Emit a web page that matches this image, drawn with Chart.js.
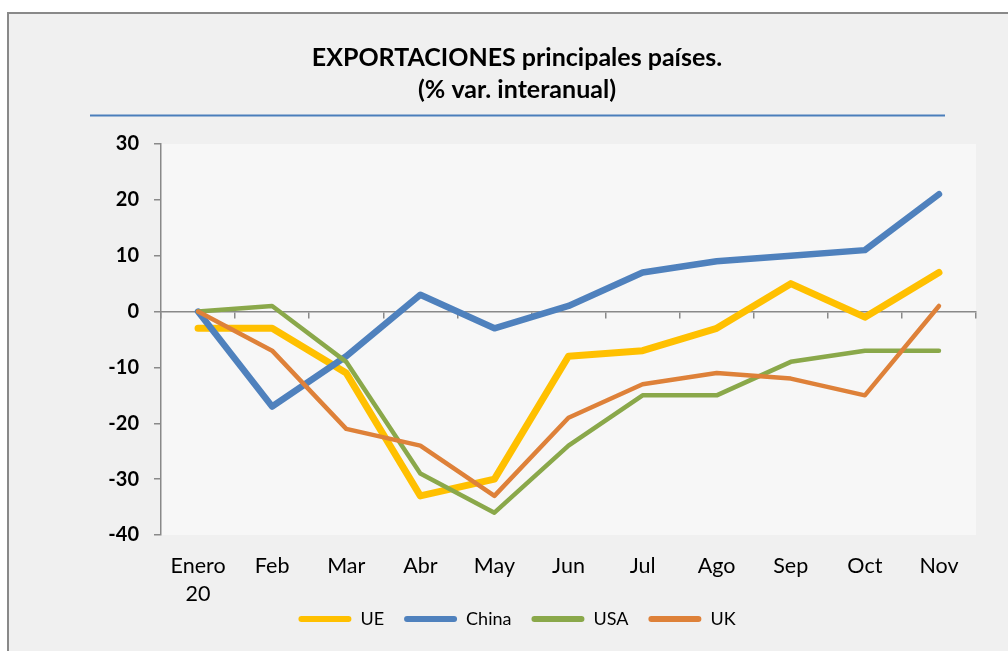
<!DOCTYPE html>
<html lang="es">
<head>
<meta charset="utf-8">
<title>Exportaciones principales países</title>
<script src="https://cdn.jsdelivr.net/npm/chart.js@4/dist/chart.umd.min.js"></script>
<style>
    html, body { margin: 0; padding: 0; background: #fff; }
    #wrap { position: relative; width: 1008px; height: 651px; }
</style>
</head>
<body>
<div id="wrap"><canvas id="exportChart" width="1008" height="651"></canvas></div>
<script>
// Meses (eje X)
const meses = [['Enero', '20'], 'Feb', 'Mar', 'Abr', 'May', 'Jun', 'Jul', 'Ago', 'Sep', 'Oct', 'Nov'];

// % var. interanual por país
const datosUE = [-3, -3, -11, -33, -30, -8, -7, -3, 5, -1, 7];
const datosChina = [0, -17, -8, 3, -3, 1, 7, 9, 10, 11, 21];
const datosUSA = [0, 1, -9, -29, -36, -24, -15, -15, -9, -7, -7];
const datosUK = [0, -7, -21, -24, -33, -19, -13, -11, -12, -15, 1];

// Eje Y
const ejeMin = -40;
const ejeMax = 30;
const ejePaso = 10;

const FUENTE = 'Lato, "Open Sans", sans-serif';
const GRIS = '#898989';

// Fondo: marco exterior, zona de trazado y línea bajo el título
const fondoPlugin = {
    id: 'fondo',
    beforeDraw: function (chart) {
        const { ctx, chartArea } = chart;
        ctx.save();
        ctx.fillStyle = '#f0f0f0';
        ctx.fillRect(8, 13, chart.width, chart.height);
        ctx.strokeStyle = GRIS;
        ctx.lineWidth = 2;
        ctx.beginPath();
        ctx.moveTo(8, chart.height + 5);
        ctx.lineTo(8, 13);
        ctx.lineTo(chart.width + 5, 13);
        ctx.stroke();

        ctx.fillStyle = '#f7f7f7';
        ctx.fillRect(chartArea.left, chartArea.top, chartArea.right - chartArea.left, chartArea.bottom - chartArea.top);

        ctx.strokeStyle = '#4a7ebb';
        ctx.lineWidth = 2;
        ctx.beginPath();
        ctx.moveTo(90, 115.5);
        ctx.lineTo(945, 115.5);
        ctx.stroke();
        ctx.restore();
    }
};

// Serie de línea
function serie(label, data, color, grosor, orden) {
    return {
        label: label,
        data: data,
        borderColor: color,
        backgroundColor: color,
        borderWidth: grosor,
        order: orden,
        pointRadius: 0,
        pointHoverRadius: 0,
        tension: 0,
        borderCapStyle: 'round',
        borderJoinStyle: 'round'
    };
}

new Chart(document.getElementById('exportChart'), {
    type: 'line',
    data: {
        labels: meses,
        datasets: [
            serie('UE', datosUE, '#ffc000', 7, 4),
            serie('China', datosChina, '#4f81bd', 6.5, 3),
            serie('USA', datosUSA, '#8aa84a', 4.5, 2),
            serie('UK', datosUK, '#de8139', 4.5, 1)
        ]
    },
    options: {
        responsive: false,
        animation: false,
        layout: {
            padding: { left: 58, right: 32, top: 0, bottom: 13 }
        },
        scales: {
            // etiquetas de meses, ancladas al mínimo del eje Y
            x: {
                type: 'category',
                axis: 'x',
                position: { y: ejeMin },
                offset: true,
                grid: { display: false, drawTicks: false },
                border: { display: false },
                ticks: {
                    color: '#000',
                    font: { family: FUENTE, size: 21.5, lineHeight: 1.3 },
                    padding: 17,
                    maxRotation: 0,
                    autoSkip: false
                }
            },
            // eje horizontal sobre el valor 0
            cero: {
                type: 'category',
                axis: 'x',
                position: { y: 0 },
                offset: true,
                grid: { offset: true, drawOnChartArea: false, drawTicks: true, tickLength: 6, color: GRIS, lineWidth: 1.5 },
                border: { color: GRIS, width: 1.5 },
                ticks: { display: false }
            },
            // reserva el hueco bajo la zona de trazado
            hueco: {
                type: 'category',
                axis: 'x',
                position: 'bottom',
                grid: { display: false },
                border: { display: false },
                ticks: { display: false },
                afterFit: function (scale) { scale.height = 55; }
            },
            y: {
                min: ejeMin,
                max: ejeMax,
                ticks: {
                    stepSize: ejePaso,
                    color: '#000',
                    font: { family: FUENTE, size: 20, weight: 'bold' },
                    padding: 15
                },
                grid: { drawOnChartArea: false, drawTicks: true, tickLength: 7, color: GRIS, lineWidth: 1.5 },
                border: { color: GRIS, width: 1.5 },
                afterFit: function (scale) { scale.width = 103; }
            }
        },
        plugins: {
            title: {
                display: true,
                text: ['EXPORTACIONES principales países.', '(% var. interanual)'],
                color: '#000',
                font: { family: FUENTE, size: 25, weight: 'bold', lineHeight: 1.28 },
                padding: { top: 42, bottom: 38 }
            },
            legend: {
                position: 'bottom',
                reverse: true,
                labels: {
                    color: '#000',
                    font: { family: FUENTE, size: 18 },
                    boxWidth: 53,
                    boxHeight: 6,
                    useBorderRadius: true,
                    borderRadius: 3,
                    padding: 20,
                    generateLabels: function (chart) {
                        return Chart.defaults.plugins.legend.labels.generateLabels(chart).map(function (item) {
                            item.lineWidth = 0;
                            item.strokeStyle = item.fillStyle;
                            return item;
                        });
                    }
                }
            },
            tooltip: { enabled: false }
        }
    },
    plugins: [fondoPlugin]
});
</script>
</body>
</html>
